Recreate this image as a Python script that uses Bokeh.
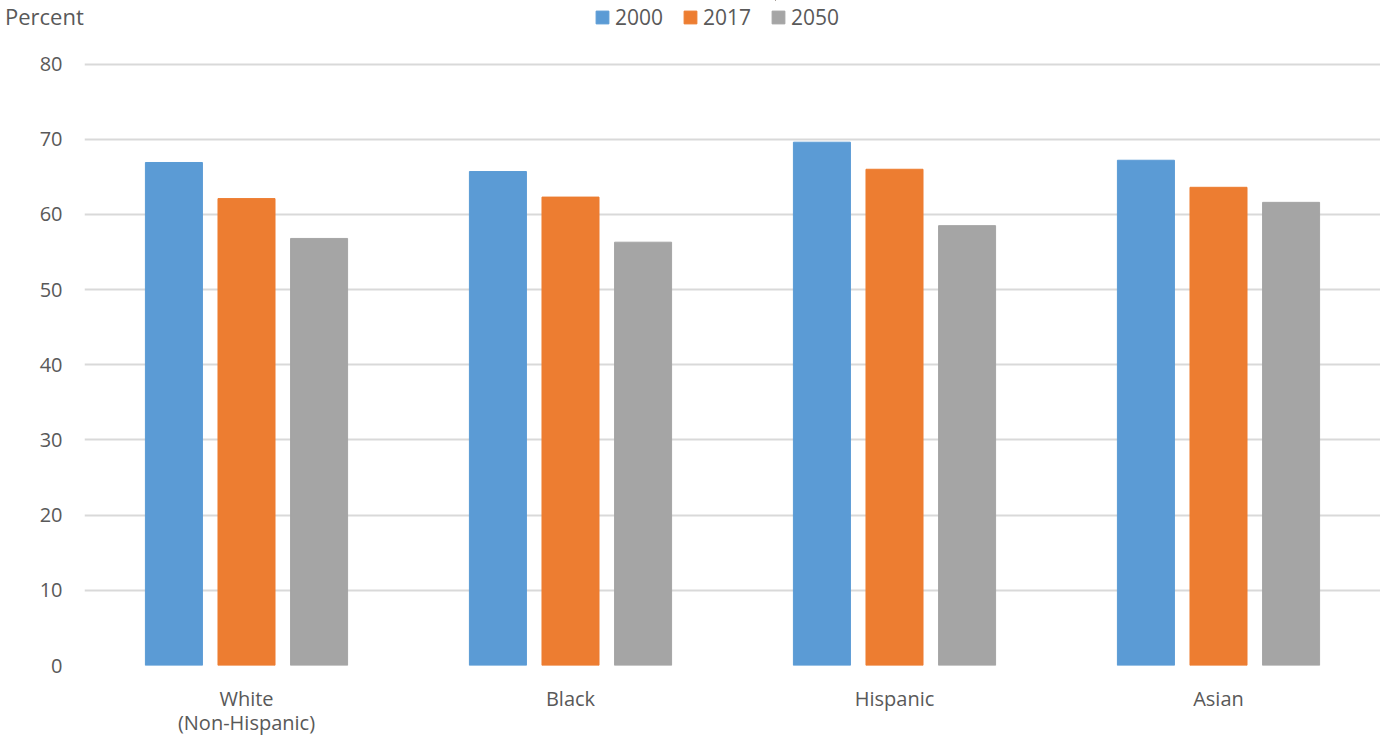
from bokeh.plotting import figure
from bokeh.layouts import column
from bokeh.models import ColumnDataSource, FactorRange, Range1d, Legend, LegendItem, FixedTicker
from bokeh.transform import dodge
from bokeh.embed import file_html
from bokeh.resources import INLINE

categories = ["White\n(Non-Hispanic)", "Black", "Hispanic", "Asian"]
years = ["2000", "2017", "2050"]
v2000 = [66.9, 65.7, 69.6, 67.2]
v2017 = [62.1, 62.3, 66.0, 63.6]
v2050 = [56.8, 56.3, 58.5, 61.6]
colors = ["#5B9BD5", "#ED7D31", "#A5A5A5"]
y_axis_title = "Percent"

src = ColumnDataSource(dict(cat=categories, y2000=v2000, y2017=v2017, y2050=v2050))
cols = ["y2000", "y2017", "y2050"]

FONT = "Open Sans"
TXT = "#595959"

# ---- header strip: "Percent" caption and the series legend ----
head = figure(frame_width=1382, frame_height=34, x_range=Range1d(0, 1), y_range=Range1d(0, 1),
              output_backend="svg", toolbar_location=None, x_axis_location=None,
              y_axis_location=None, min_border=0)
head.outline_line_color = None
head.grid.visible = False
# legend swatch renderers: the series values lie far outside this strip's range, so only
# the legend swatches are visible here
swatches = [head.vbar(x=0.5, top=col, bottom=col, width=0.0, source=src,
                      fill_color=c, line_color=c) for col, c in zip(cols, colors)]
ghost = head.vbar(x=0.5, top="y2000", bottom="y2000", width=0.0, source=src,
                  fill_alpha=0, line_alpha=0)

legend = Legend(items=[LegendItem(label=y, renderers=[r]) for y, r in zip(years, swatches)],
                orientation="horizontal", location=(594, 3), padding=0, margin=0,
                border_line_color=None, background_fill_alpha=0,
                glyph_width=16, glyph_height=16, label_standoff=5, spacing=19,
                label_text_font=FONT, label_text_font_size="21px", label_text_color=TXT,
                label_height=28)
head.add_layout(legend, "center")

cap = Legend(items=[LegendItem(label=y_axis_title, renderers=[ghost])],
             location=(5, 3), padding=0, margin=0, border_line_color=None,
             background_fill_alpha=0, glyph_width=0, glyph_height=1, label_standoff=0,
             label_height=28,
             label_text_font=FONT, label_text_font_size="22px", label_text_color=TXT)
head.add_layout(cap, "center")

# ---- main chart ----
p = figure(frame_width=1296, frame_height=603, x_range=FactorRange(*categories, range_padding=0),
           y_range=Range1d(0, 80.2), output_backend="svg", toolbar_location=None,
           min_border_left=84, min_border_right=0, min_border_top=28, min_border_bottom=55)
p.outline_line_color = None

for col, off, c in zip(cols, [-0.224, 0.0, 0.224], colors):
    p.vbar(x=dodge("cat", off, range=p.x_range), top=col, width=0.176, source=src,
           fill_color=c, line_color=c)

p.xgrid.grid_line_color = None
p.ygrid.grid_line_color = "#d9d9d9"
p.ygrid.grid_line_width = 2
p.yaxis.ticker = FixedTicker(ticks=list(range(0, 81, 10)))
for ax in (p.xaxis[0], p.yaxis[0]):
    ax.axis_line_color = None
    ax.major_tick_line_color = None
    ax.minor_tick_line_color = None
    ax.major_tick_out = 0
    ax.major_tick_in = 0
    ax.major_label_text_font = FONT
    ax.major_label_text_color = TXT
    ax.major_label_text_font_size = "20px"
p.yaxis.major_label_standoff = 22
p.xaxis.major_label_standoff = 19
p.xaxis.major_label_text_line_height = 0.92

layout = column(head, p, spacing=0)
open("out.html", "w").write(file_html(layout, INLINE))
